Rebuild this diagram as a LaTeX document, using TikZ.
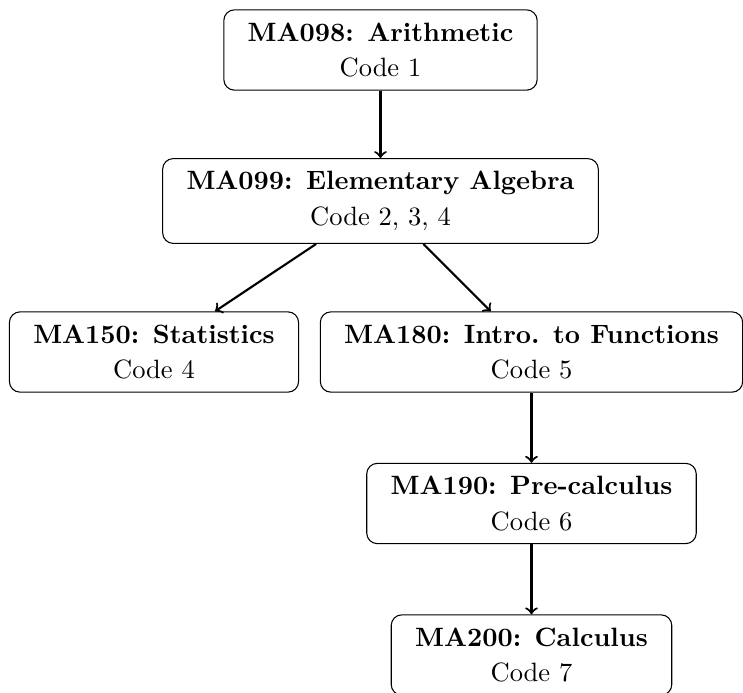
\documentclass[tikz,border=0pt]{standalone}
\begin{document}
\begin{tikzpicture}[x=0.3774pt,y=-0.3774pt,
  box/.style={draw, rounded corners=4pt, align=center, inner xsep=9pt, inner ysep=4.8pt, thin},
  arr/.style={->, thick}]
\useasboundingbox (0,0) rectangle (743,693);
\node[box] (a) at (380.5,50) {\textbf{MA098: Arithmetic}\\[1.5pt]Code 1};
\node[box] (b) at (380.5,201) {\textbf{MA099: Elementary Algebra}\\[1.5pt]Code 2, 3, 4};
\node[box] (c) at (154,352) {\textbf{MA150: Statistics}\\[1.5pt]Code 4};
\node[box] (d) at (531.5,352) {\textbf{MA180: Intro. to Functions}\\[1.5pt]Code 5};
\node[box] (e) at (531.5,503.5) {\textbf{MA190: Pre-calculus}\\[1.5pt]Code 6};
\node[box] (f) at (531.5,655) {\textbf{MA200: Calculus}\\[1.5pt]Code 7};
\draw[arr] (a) -- (b);
\draw[arr] (b) -- (c);
\draw[arr] (b) -- (d);
\draw[arr] (d) -- (e);
\draw[arr] (e) -- (f);
\end{tikzpicture}
\end{document}
